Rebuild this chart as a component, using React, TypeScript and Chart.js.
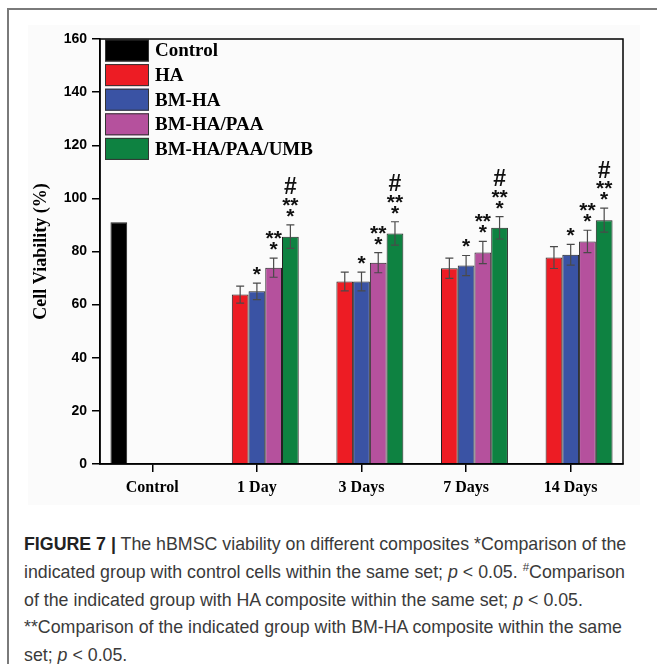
import React, { useEffect, useRef } from "react";
import { Chart, registerables } from "chart.js";

Chart.register(...registerables);

// ---- data ----
const categories = ["Control", "1 Day", "3 Days", "7 Days", "14 Days"];
const seriesNames = ["Control", "HA", "BM-HA", "BM-HA/PAA", "BM-HA/PAA/UMB"];
const seriesColors = ["#000000", "#ED1C24", "#3A53A4", "#B5519D", "#0E8241"];

const controlValues = [91, null, null, null, null];
const haValues = [null, 63.8, 68.7, 73.7, 77.7];
const bmhaValues = [null, 65, 68.7, 74.7, 78.8];
const paaValues = [null, 73.9, 75.8, 79.6, 83.8];
const umbValues = [null, 85.6, 86.8, 88.9, 91.8];

const controlErr = [null, null, null, null, null];
const haErr = [null, 3.2, 3.5, 3.8, 4.1];
const bmhaErr = [null, 3.1, 3.5, 3.8, 3.9];
const paaErr = [null, 3.6, 3.8, 4.2, 4.2];
const umbErr = [null, 4.4, 4.4, 4.2, 4.5];

const controlMarks: string[][] = [[], [], [], [], []];
const haMarks: string[][] = [[], [], [], [], []];
const bmhaMarks: string[][] = [[], ["*"], ["*"], ["*"], ["*"]];
const paaMarks: string[][] = [[], ["**", "*"], ["**", "*"], ["**", "*"], ["**", "*"]];
const umbMarks: string[][] = [[], ["#", "**", "*"], ["#", "**", "*"], ["#", "**", "*"], ["#", "**", "*"]];

const yTicks = [0, 20, 40, 60, 80, 100, 120, 140, 160];

const allValues = [controlValues, haValues, bmhaValues, paaValues, umbValues];
const allErrors = [controlErr, haErr, bmhaErr, paaErr, umbErr];
const allMarks = [controlMarks, haMarks, bmhaMarks, paaMarks, umbMarks];

const SERIF = "'Liberation Serif', 'Times New Roman', serif";
const SANS = "'Liberation Sans', Arial, sans-serif";

function drawCentered(ctx: CanvasRenderingContext2D, text: string, x: number, cy: number) {
  const m = ctx.measureText(text);
  const off = (m.actualBoundingBoxAscent - m.actualBoundingBoxDescent) / 2;
  ctx.fillText(text, x, cy + off);
}

const errorBarPlugin = {
  id: "errorBars",
  afterDatasetsDraw(chart: any) {
    const ctx: CanvasRenderingContext2D = chart.ctx;
    const y = chart.scales.y;
    ctx.save();
    chart.data.datasets.forEach((ds: any, i: number) => {
      const meta = chart.getDatasetMeta(i);
      meta.data.forEach((bar: any, j: number) => {
        const v = ds.data[j];
        if (v == null) return;
        const e = allErrors[i][j];
        let topY = bar.y;
        if (e) {
          const hi = y.getPixelForValue(v + e);
          const lo = y.getPixelForValue(v - e);
          ctx.strokeStyle = "#4a4a4a";
          ctx.lineWidth = 1.2;
          ctx.beginPath();
          ctx.moveTo(bar.x, lo);
          ctx.lineTo(bar.x, hi);
          ctx.moveTo(bar.x - 4, lo);
          ctx.lineTo(bar.x + 4, lo);
          ctx.moveTo(bar.x - 4, hi);
          ctx.lineTo(bar.x + 4, hi);
          ctx.stroke();
          topY = hi;
        }
        const marks = allMarks[i][j] || [];
        let cy = topY;
        for (let k = marks.length - 1; k >= 0; k--) {
          const t = marks[k];
          ctx.fillStyle = "#111";
          ctx.textAlign = "center";
          if (t === "#") {
            cy -= 16;
            ctx.font = `bold 23px ${SANS}`;
          } else {
            cy -= k === marks.length - 1 ? 12 : 11;
            ctx.font = `bold 21px ${SANS}`;
          }
          drawCentered(ctx, t, bar.x, cy);
        }
      });
    });
    ctx.restore();
  },
  afterDraw(chart: any) {
    const ctx: CanvasRenderingContext2D = chart.ctx;
    const a = chart.chartArea;
    ctx.save();
    // frame
    ctx.strokeStyle = "#000";
    ctx.lineWidth = 1.5;
    ctx.strokeRect(a.left, a.top, a.right - a.left, a.bottom - a.top);
    // legend
    const x0 = a.left + 5;
    let yy = a.top + 0.5;
    chart.data.datasets.forEach((ds: any) => {
      ctx.fillStyle = ds.backgroundColor;
      ctx.fillRect(x0, yy, 44, 22);
      ctx.strokeStyle = "#333";
      ctx.lineWidth = 1;
      ctx.strokeRect(x0 + 0.5, yy + 0.5, 43, 21);
      ctx.fillStyle = "#000";
      ctx.font = `bold 19px ${SERIF}`;
      ctx.textAlign = "left";
      ctx.textBaseline = "middle";
      ctx.fillText(ds.label, x0 + 50, yy + 12);
      yy += 24.6;
    });
    ctx.restore();
  },
};

export default function App() {
  const ref = useRef<HTMLCanvasElement | null>(null);
  useEffect(() => {
    if (!ref.current) return;
    const chart = new Chart(ref.current, {
      type: "bar",
      data: {
        labels: categories,
        datasets: seriesNames.map((name, i) => ({
          label: name,
          data: allValues[i] as any,
          backgroundColor: seriesColors[i],
          borderColor: "#222",
          borderWidth: 1,
          categoryPercentage: 0.8,
          barPercentage: 1.0,
        })),
      },
      options: {
        animation: false,
        responsive: false,
        layout: { padding: { left: 0, top: 39, right: 34, bottom: 0 } },
        plugins: { legend: { display: false }, tooltip: { enabled: false } },
        scales: {
          x: {
            grid: { display: true, drawOnChartArea: false, offset: false, color: "#000", tickLength: 8, lineWidth: 1.5 },
            border: { display: true, color: "#000", width: 1.5 },
            ticks: { color: "#000", font: { family: SERIF, weight: "bold", size: 16 }, padding: 6, maxRotation: 0 },
            afterFit(scale: any) {
              scale.height = 46;
              scale.paddingLeft = 0;
              scale.paddingRight = 0;
            },
          },
          y: {
            min: 0,
            max: 160,
            afterBuildTicks(scale: any) {
              scale.ticks = yTicks.map((v) => ({ value: v }));
            },
            grid: { display: true, drawOnChartArea: false, color: "#000", tickLength: 8, lineWidth: 1.5 },
            border: { display: true, color: "#000", width: 1.5 },
            ticks: { color: "#000", font: { family: SANS, weight: "bold", size: 14 }, padding: 5 },
            title: {
              display: true,
              text: "Cell Viability (%)",
              color: "#000",
              font: { family: SERIF, weight: "bold", size: 18 },
              padding: { top: 31, bottom: 0 },
            },
            afterFit(scale: any) {
              scale.width = 100;
              scale.paddingTop = 0;
              scale.paddingBottom = 0;
            },
          },
        },
      } as any,
      plugins: [errorBarPlugin],
    });
    return () => chart.destroy();
  }, []);

  const cap: React.CSSProperties = {
    position: "absolute",
    left: 24,
    top: 531,
    width: 640,
    fontFamily: SANS,
    fontSize: 17.8,
    lineHeight: "27.8px",
    color: "#3a3a3a",
    whiteSpace: "nowrap",
  };

  return (
    <div style={{ position: "absolute", left: 0, top: 0, width: 657, height: 664, overflow: "hidden", background: "#fff" }}>
      <div style={{ position: "absolute", left: 7, top: 8, width: 700, height: 700, borderLeft: "2px solid #7a7a7a", borderTop: "2px solid #7a7a7a" }} />
      <div style={{ position: "absolute", left: 28, top: 25, width: 612, height: 480, background: "#fbfbfb" }} />
      <canvas ref={ref} width={657} height={510} style={{ position: "absolute", left: 0, top: 0, width: 657, height: 510 }} />
      <div style={cap}>
        <div>
          <b style={{ color: "#222" }}>FIGURE 7 |</b> The hBMSC viability on different composites *Comparison of the
        </div>
        <div>
          indicated group with control cells within the same set; <i>p</i> &lt; 0.05. <sup style={{ fontSize: "0.65em", lineHeight: 0 }}>#</sup>Comparison
        </div>
        <div>of the indicated group with HA composite within the same set; <i>p</i> &lt; 0.05.</div>
        <div>**Comparison of the indicated group with BM-HA composite within the same</div>
        <div>
          set; <i>p</i> &lt; 0.05.
        </div>
      </div>
    </div>
  );
}
